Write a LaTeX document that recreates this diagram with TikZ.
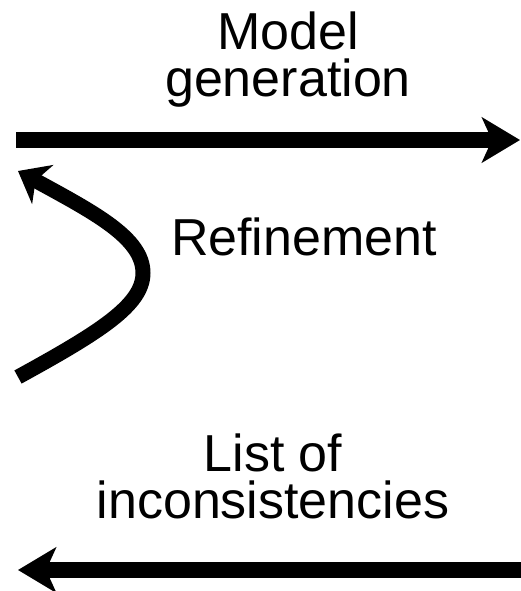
\documentclass[tikz,border=0pt]{standalone}
\usepackage{fontspec}
\setmainfont{Liberation Sans}
\usetikzlibrary{arrows.meta}
\tikzset{
  label text/.style={inner sep=0pt, align=center, anchor=base,
    font=\fontsize{52}{47}\selectfont},
  flow/.style={line width=15.5pt, -{Stealth[length=38pt, width=45pt, inset=10pt]}},
  bend flow/.style={line width=15pt, -{Stealth[length=28pt, width=44pt, inset=8pt]}}
}
\begin{document}
\begin{tikzpicture}[x=1pt, y=-1pt]
  \useasboundingbox (0,0) rectangle (521,591);

  % labels (anchored at the baseline of the last line)
  \node[label text] (gen)  at (288,97)  {Model\\generation};
  \node[label text] (ref)  at (304,255) {Refinement};
  \node[label text] (list) at (273,518) {List of\\inconsistencies};

  % end points of the three arrows
  \coordinate (genA) at (16,140);
  \coordinate (genB) at (520,140);
  \coordinate (refA) at (18,377);
  \coordinate (refM) at (143,273);
  \coordinate (refB) at (18,171);
  \coordinate (incA) at (521,570);
  \coordinate (incB) at (18,570);

  \draw[flow] (genA) -- (genB);
  \draw[bend flow] (refA) .. controls (100,332) and (143,305) .. (refM)
                          .. controls (143,238) and (95,213) .. (refB);
  \draw[flow] (incA) -- (incB);
\end{tikzpicture}
\end{document}
